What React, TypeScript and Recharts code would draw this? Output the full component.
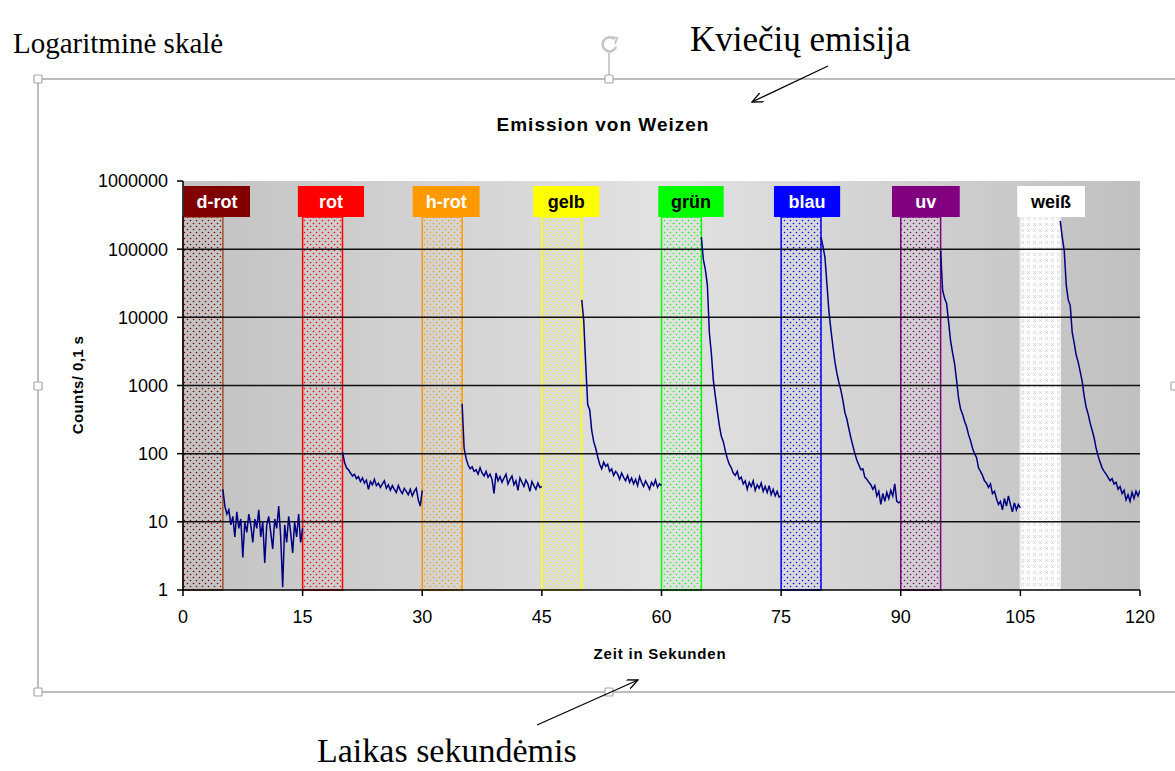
import React from "react";
import { LineChart, Line, XAxis, YAxis, ReferenceArea, ReferenceLine } from "recharts";

// sampling step of the decay traces (seconds)
const STEP = 0.25;

const X_TICKS = [0, 15, 30, 45, 60, 75, 90, 105, 120];
const Y_TICKS = [1, 10, 100, 1000, 10000, 100000, 1000000];
const GRID_LEVELS = [10, 100, 1000, 10000, 100000];

// counts per 0.1 s after each illumination
const dRotTail = [30, 17, 13, 15, 9, 12, 6, 14, 8, 11, 3, 10, 7, 13, 9, 5, 11, 8, 15, 6, 10, 2.5, 9, 12, 7, 4, 11, 8, 17, 6, 1.1, 9, 5, 12, 7, 3.5, 10, 6, 13, 5, 8];
const rotTail = [105, 75, 62, 58, 52, 47, 50, 43, 46, 39, 44, 37, 41, 30, 39, 35, 42, 34, 37, 32, 36, 40, 31, 35, 29, 34, 30, 27, 34, 29, 26, 31, 28, 25, 30, 24, 28, 31, 21, 17, 29];
const hRotTail = [540, 120, 85, 68, 60, 64, 55, 58, 50, 62, 52, 47, 55, 45, 50, 42, 26, 52, 40, 46, 38, 44, 50, 36, 42, 47, 35, 40, 29, 44, 38, 33, 41, 36, 28, 39, 34, 30, 37, 32, 33];
const gelbTail = [18000, 9000, 2000, 520, 440, 220, 150, 120, 90, 70, 60, 75, 65, 70, 55, 60, 48, 55, 50, 42, 52, 45, 40, 48, 38, 44, 36, 42, 34, 46, 38, 33, 40, 35, 30, 38, 34, 41, 32, 36, 34];
const gruenTail = [150000, 70000, 50000, 30000, 6000, 3000, 1200, 700, 420, 260, 180, 150, 110, 85, 70, 62, 52, 48, 55, 42, 45, 36, 40, 30, 38, 33, 40, 29, 35, 31, 37, 28, 33, 27, 34, 25, 30, 24, 28, 23, 24];
const blauTail = [150000, 110000, 75000, 30000, 12000, 6500, 3700, 2200, 1500, 1100, 850, 600, 400, 320, 230, 170, 130, 100, 80, 68, 58, 60, 45, 42, 38, 35, 30, 34, 24, 28, 18, 26, 20, 27, 22, 29, 24, 36, 20, 19, 20];
const uvTail = [95000, 25000, 19000, 16000, 8500, 4500, 3000, 2100, 1200, 650, 450, 380, 300, 250, 190, 155, 120, 100, 88, 62, 55, 48, 40, 37, 32, 36, 26, 28, 22, 18, 20, 15, 22, 17, 24, 18, 14, 19, 15, 18, 16];
const weissTail = [260000, 150000, 95000, 30000, 18000, 15000, 6000, 4200, 2800, 2200, 1600, 1150, 700, 480, 380, 280, 220, 170, 120, 92, 75, 62, 55, 50, 45, 40, 43, 36, 38, 30, 33, 26, 29, 21, 25, 20, 27, 22, 28, 24, 29];

const SEGMENTS = [
  { start: 5, values: dRotTail },
  { start: 20, values: rotTail },
  { start: 35, values: hRotTail },
  { start: 50, values: gelbTail },
  { start: 65, values: gruenTail },
  { start: 80, values: blauTail },
  { start: 95, values: uvTail },
  { start: 110, values: weissTail },
];

// illumination intervals and their label boxes
const BANDS = [
  { name: "d-rot", from: 0, to: 5, boxFrom: 0.1, boxTo: 8.4, color: "#800000", edge: "#a0522d", text: "#ffffff" },
  { name: "rot", from: 15, to: 20, boxFrom: 14.4, boxTo: 22.7, color: "#ff0000", edge: "#ff0000", text: "#ffffff" },
  { name: "h-rot", from: 30, to: 35, boxFrom: 28.8, boxTo: 37.2, color: "#ff9900", edge: "#ff9900", text: "#ffffff" },
  { name: "gelb", from: 45, to: 50, boxFrom: 43.9, boxTo: 52.2, color: "#ffff00", edge: "#ffff00", text: "#000000" },
  { name: "grün", from: 60, to: 65, boxFrom: 59.6, boxTo: 67.8, color: "#00ff00", edge: "#00ff00", text: "#000000" },
  { name: "blau", from: 75, to: 80, boxFrom: 74.1, boxTo: 82.4, color: "#0000ff", edge: "#0000ff", text: "#ffffff" },
  { name: "uv", from: 90, to: 95, boxFrom: 88.9, boxTo: 97.4, color: "#800080", edge: "#800080", text: "#ffffff" },
  { name: "weiß", from: 105, to: 110, boxFrom: 104.6, boxTo: 113.1, color: "#ffffff", edge: "#f2f2f2", text: "#000000" },
];
const BOX_LOW = 296000;
const BOX_HIGH = 845000;

const data: { t: number; v: number | null }[] = [];
SEGMENTS.forEach((seg) => {
  seg.values.forEach((v, i) => data.push({ t: +(seg.start + i * STEP).toFixed(2), v }));
  data.push({ t: seg.start + seg.values.length * STEP, v: null });
});

const SANS = "'Liberation Sans', Arial, sans-serif";
const SERIF = "'Liberation Serif', 'Times New Roman', serif";
const FRAME = "#a8a8a8";

function Handle({ x, y }: { x: number; y: number }) {
  return <rect x={x - 4} y={y - 4} width={8} height={8} fill="#fff" stroke={FRAME} strokeWidth={1.2} rx={1} />;
}

export default function App() {
  return (
    <div style={{ position: "absolute", left: 0, top: 0, width: 1175, height: 771, background: "#fff" }}>
      <svg width={0} height={0} style={{ position: "absolute" }}>
        <defs>
          <linearGradient id="bgGrad" x1="0" y1="0" x2="1" y2="0">
            <stop offset="0" stopColor="#c2c2c2" />
            <stop offset="0.5" stopColor="#e2e2e2" />
            <stop offset="1" stopColor="#c0c0c0" />
          </linearGradient>
          {BANDS.map((b, i) =>
            b.name === "weiß" ? (
              <pattern key={b.name} id={`pat-${i}`} width={6} height={6} patternUnits="userSpaceOnUse">
                <rect width={6} height={6} fill="#ffffff" />
                <path d="M1,1 L4,4 M4,1 L1,4" stroke="#cfcfcf" strokeWidth={0.8} />
              </pattern>
            ) : (
              <pattern key={b.name} id={`pat-${i}`} width={6} height={6} patternUnits="userSpaceOnUse">
                <circle cx={1.5} cy={1.5} r={0.8} fill={b.color} />
                <circle cx={4.5} cy={4.5} r={0.8} fill={b.color} />
              </pattern>
            )
          )}
          <marker id="arrowHead" markerWidth={12} markerHeight={10} refX={11} refY={5} orient="auto" markerUnits="userSpaceOnUse">
            <path d="M0,0 L11,5 L0,10" fill="none" stroke="#000" strokeWidth={1.3} />
          </marker>
        </defs>
      </svg>

      <LineChart
        width={1175}
        height={771}
        data={data}
        margin={{ top: 181, right: 35, bottom: 111, left: 93 }}
        style={{ position: "absolute", left: 0, top: 0, fontFamily: SANS }}
      >
        <XAxis
          dataKey="t"
          type="number"
          domain={[0, 120]}
          ticks={X_TICKS}
          allowDataOverflow
          height={70}
          tickSize={6}
          tickMargin={14}
          tick={{ fontSize: 18, fill: "#000", fontFamily: SANS }}
          axisLine={{ stroke: "#000", strokeWidth: 1.5 }}
          tickLine={{ stroke: "#000", strokeWidth: 1.5 }}
        />
        <YAxis
          type="number"
          scale="log"
          domain={[1, 1000000]}
          ticks={Y_TICKS}
          allowDataOverflow
          width={90}
          tickSize={6}
          tickMargin={9}
          tickFormatter={(v: number) => String(v)}
          tick={{ fontSize: 18, fill: "#000", fontFamily: SANS }}
          axisLine={{ stroke: "#000", strokeWidth: 1.5 }}
          tickLine={{ stroke: "#000", strokeWidth: 1.5 }}
        />
        <ReferenceArea x1={0} x2={120} y1={1} y2={1000000} fill="url(#bgGrad)" fillOpacity={1} stroke="none" ifOverflow="hidden" />
        {BANDS.map((b, i) => (
          <ReferenceArea
            key={`band-${b.name}`}
            x1={b.from}
            x2={b.to}
            y1={1}
            y2={BOX_LOW}
            fill={`url(#pat-${i})`}
            fillOpacity={1}
            stroke={b.edge}
            strokeWidth={1.5}
          />
        ))}
        {GRID_LEVELS.map((lvl) => (
          <ReferenceLine key={lvl} y={lvl} stroke="#111" strokeWidth={1.5} />
        ))}
        {BANDS.map((b) => (
          <ReferenceArea
            key={`box-${b.name}`}
            x1={b.boxFrom}
            x2={b.boxTo}
            y1={BOX_LOW}
            y2={BOX_HIGH}
            fill={b.color}
            fillOpacity={1}
            stroke="none"
            label={{ value: b.name, position: "center", fill: b.text, fontSize: 18, fontWeight: "bold", fontFamily: SANS }}
          />
        ))}
        <Line
          dataKey="v"
          type="linear"
          stroke="#000080"
          strokeWidth={1.5}
          dot={false}
          connectNulls={false}
          isAnimationActive={false}
        />
      </LineChart>

      <svg width={1175} height={771} style={{ position: "absolute", left: 0, top: 0, pointerEvents: "none" }}>
        <path d="M1175,79 H38 V692 H1175" fill="none" stroke={FRAME} strokeWidth={1.5} />
        <line x1={609} y1={53} x2={609} y2={75} stroke="#9a9a9a" strokeWidth={1} />
        <path d="M614,39 A7,7 0 1 0 616,47" fill="none" stroke="#c4c4c4" strokeWidth={2.5} />
        <path d="M611,37 L617,38 L615,44" fill="none" stroke="#c4c4c4" strokeWidth={2} />
        <Handle x={38} y={79} />
        <Handle x={609} y={79} />
        <Handle x={38} y={386} />
        <Handle x={38} y={692} />
        <Handle x={609} y={692} />
        <Handle x={1175} y={386} />

        <text x={603} y={131} textAnchor="middle" fontFamily={SANS} fontWeight="bold" fontSize={19} letterSpacing={1} fill="#000">
          Emission von Weizen
        </text>
        <text x={660} y={659} textAnchor="middle" fontFamily={SANS} fontWeight="bold" fontSize={15} letterSpacing={0.8} fill="#000">
          Zeit in Sekunden
        </text>
        <text transform="translate(83,385) rotate(-90)" textAnchor="middle" fontFamily={SANS} fontWeight="bold" fontSize={15} letterSpacing={0.4} fill="#000">
          Counts/ 0,1 s
        </text>

        <text x={13} y={53} fontFamily={SERIF} fontSize={29} fill="#000">Logaritminė skalė</text>
        <text x={690} y={51} fontFamily={SERIF} fontSize={35} fill="#000">Kviečių emisija</text>
        <text x={317} y={762} fontFamily={SERIF} fontSize={34} fill="#000">Laikas sekundėmis</text>

        <line x1={828} y1={66} x2={752} y2={102} stroke="#000" strokeWidth={1.3} markerEnd="url(#arrowHead)" />
        <line x1={537} y1={725} x2={638} y2={680} stroke="#000" strokeWidth={1.3} markerEnd="url(#arrowHead)" />
      </svg>
    </div>
  );
}
